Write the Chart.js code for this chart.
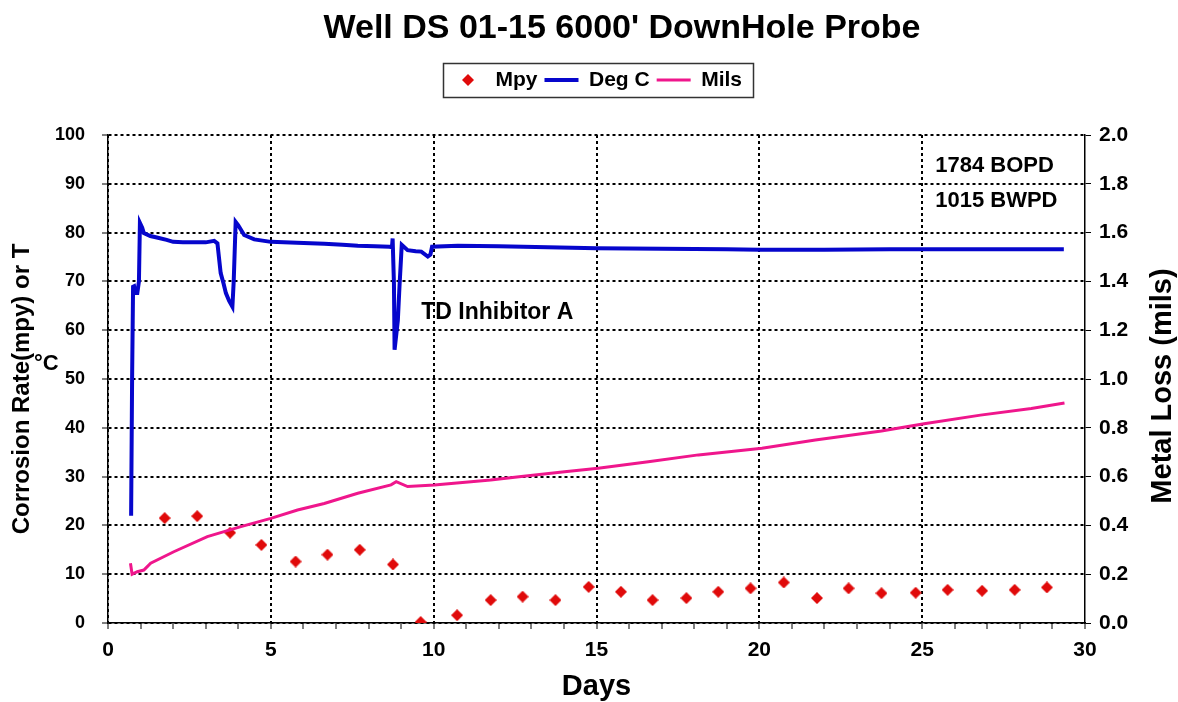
<!DOCTYPE html>
<html>
<head>
<meta charset="utf-8">
<script src="https://cdn.jsdelivr.net/npm/chart.js@4"></script>
<style>
  html, body { margin: 0; padding: 0; background: #ffffff; }
  #c { display: block; }
</style>
</head>
<body>
<canvas id="c" width="1178" height="702"></canvas>
<script>
// ---------- data ----------
const mpyDays = [1.74, 2.74, 3.75, 4.71, 5.76, 6.74, 7.73, 8.75, 9.6, 10.72, 11.75, 12.73, 13.74, 14.76, 15.75, 16.72, 17.76, 18.74, 19.73, 20.75, 21.77, 22.74, 23.75, 24.8, 25.78, 26.84, 27.84, 28.83];
const mpyVals = [21.5, 21.9, 18.5, 16.0, 12.6, 14.0, 15.0, 12.0, 0.2, 1.6, 4.7, 5.4, 4.7, 7.4, 6.4, 4.7, 5.1, 6.4, 7.1, 8.3, 5.1, 7.1, 6.1, 6.2, 6.8, 6.6, 6.8, 7.3];

const degDays = [0.71, 0.74, 0.77, 0.8, 0.83, 0.9, 0.95, 0.98, 1.05, 1.1, 1.3, 1.5, 1.8, 2.0, 2.3, 2.6, 3.0, 3.26, 3.36, 3.46, 3.55, 3.62, 3.72, 3.82, 3.86, 3.92, 4.0, 4.18, 4.49, 5.0, 5.8, 6.64, 7.2, 7.67, 8.2, 8.64, 8.72, 8.74, 8.78, 8.8, 8.9, 8.95, 9.02, 9.2, 9.45, 9.62, 9.82, 9.9, 9.95, 10.74, 12, 13.5, 15, 17, 19, 20, 22, 24, 26, 28, 29.35];
const degVals = [22, 50, 68.9, 69, 67.6, 67.6, 70, 82, 81, 79.9, 79.3, 79, 78.5, 78.1, 78, 78, 78, 78.3, 77.8, 71.7, 69.5, 67.6, 66, 64.8, 70, 82.2, 81.5, 79.5, 78.6, 78.1, 77.9, 77.7, 77.5, 77.3, 77.2, 77.1, 77, 78.8, 69.6, 56, 62, 68.9, 77.5, 76.4, 76.2, 76.1, 75.1, 75.5, 77.1, 77.3, 77.2, 77, 76.8, 76.7, 76.6, 76.5, 76.5, 76.6, 76.6, 76.6, 76.6];

const milsDays = [0.69, 0.74, 0.9, 1.1, 1.31, 2.02, 3.05, 4.08, 5.0, 5.82, 6.64, 7.67, 8.69, 8.85, 9.2, 10.02, 11.75, 12.69, 14.02, 15.05, 16.59, 18.13, 20.08, 21.72, 23.75, 25.06, 26.79, 28.35, 29.37];
const milsVals = [0.245, 0.2, 0.21, 0.217, 0.245, 0.292, 0.354, 0.395, 0.429, 0.463, 0.49, 0.532, 0.566, 0.579, 0.559, 0.566, 0.586, 0.6, 0.62, 0.634, 0.661, 0.689, 0.716, 0.75, 0.787, 0.817, 0.852, 0.879, 0.902];

const seriesNames = ['Mpy', 'Deg C', 'Mils'];
const chartTitle = "Well DS 01-15 6000' DownHole Probe";
const xTitle = 'Days';
const yLeftTitle = 'Corrosion Rate(mpy) or T';
const yLeftUnit = '°C';
const yRightTitle = 'Metal Loss (mils)';
const notes = [
  { text: 'TD Inhibitor A', day: 9.62, val: 62.2, size: 23 },
  { text: '1784 BOPD', day: 25.4, val: 92.4, size: 22 },
  { text: '1015 BWPD', day: 25.4, val: 85.3, size: 22 }
];

// ---------- build ----------
const FF = '"Liberation Sans", Arial, Helvetica, sans-serif';
const toPts = (xs, ys) => xs.map((d, i) => ({ x: d, y: ys[i] }));

// diamond marker used for the Mpy series and its legend entry
const diamond = document.createElement('canvas');
diamond.width = 12; diamond.height = 12;
(function () {
  const g = diamond.getContext('2d');
  g.fillStyle = '#E00A0A';
  g.beginPath();
  g.moveTo(6, 0); g.lineTo(12, 6); g.lineTo(6, 12); g.lineTo(0, 6);
  g.closePath(); g.fill();
})();

const overlay = {
  id: 'overlay',
  afterDraw(chart) {
    const { ctx } = chart;
    const xs = chart.scales.x, ys = chart.scales.y;
    ctx.save();
    // legend frame
    const lg = chart.legend;
    if (lg && lg.legendHitBoxes && lg.legendHitBoxes.length) {
      const hb = lg.legendHitBoxes;
      const first = hb[0], last = hb[hb.length - 1];
      const l = first.left + 17 - 25;
      const r = last.left + last.width + 11;
      const cy = first.top + first.height / 2;
      ctx.strokeStyle = '#333333';
      ctx.lineWidth = 1.5;
      ctx.strokeRect(Math.round(l) + 0.5, Math.round(cy - 17) + 0.5, Math.round(r - l), 34);
    }
    ctx.fillStyle = '#000000';
    // chart title
    ctx.textAlign = 'center';
    ctx.textBaseline = 'alphabetic';
    ctx.font = 'bold 34px ' + FF;
    ctx.fillText(chartTitle, 622, 38);
    // notes
    ctx.textAlign = 'left';
    notes.forEach(n => {
      ctx.font = 'bold ' + n.size + 'px ' + FF;
      ctx.fillText(n.text, xs.getPixelForValue(n.day), ys.getPixelForValue(n.val));
    });
    // unit part of left title
    ctx.font = 'bold 22px ' + FF;
    ctx.fillText(yLeftUnit, 34, 370);
    // right title (reads bottom to top)
    ctx.translate(1163, 386);
    ctx.rotate(-Math.PI / 2);
    ctx.textAlign = 'center';
    ctx.textBaseline = 'middle';
    ctx.font = 'bold 29px ' + FF;
    ctx.fillText(yRightTitle, 0, 0);
    ctx.restore();
  }
};

new Chart(document.getElementById('c'), {
  type: 'scatter',
  data: {
    datasets: [
      {
        type: 'scatter',
        label: seriesNames[0],
        data: toPts(mpyDays, mpyVals),
        yAxisID: 'y',
        pointStyle: diamond,
        pointRadius: 6,
        backgroundColor: '#E00A0A',
        borderColor: '#E00A0A',
        borderWidth: 0,
        order: 2
      },
      {
        type: 'line',
        label: seriesNames[1],
        data: toPts(degDays, degVals),
        yAxisID: 'y',
        borderColor: '#0606CC',
        backgroundColor: '#0606CC',
        borderWidth: 4,
        pointRadius: 0,
        pointHitRadius: 0,
        pointStyle: 'line',
        pointBorderWidth: 4,
        tension: 0,
        fill: false,
        order: 0
      },
      {
        type: 'line',
        label: seriesNames[2],
        data: toPts(milsDays, milsVals),
        yAxisID: 'y2',
        borderColor: '#EF168C',
        backgroundColor: '#EF168C',
        borderWidth: 3,
        pointRadius: 0,
        pointHitRadius: 0,
        pointStyle: 'line',
        pointBorderWidth: 3,
        tension: 0,
        fill: false,
        order: 1
      }
    ]
  },
  options: {
    responsive: false,
    animation: false,
    devicePixelRatio: 1,
    layout: { padding: { top: 62.5, left: 0, right: 0, bottom: 0 } },
    plugins: {
      title: { display: false },
      subtitle: {
        display: true,
        text: ' ',
        weight: 500,
        fullSize: false,
        font: { size: 10, lineHeight: 1 },
        padding: { top: 0, bottom: 24.5 }
      },
      legend: {
        display: true,
        position: 'top',
        fullSize: false,
        labels: {
          usePointStyle: true,
          pointStyleWidth: 34,
          boxWidth: 34,
          boxHeight: 8,
          padding: 7,
          color: '#000000',
          font: { family: FF, size: 21, weight: 'bold' },
          sort: (a, b) => a.datasetIndex - b.datasetIndex
        }
      },
      tooltip: { enabled: false }
    },
    scales: {
      x: {
        type: 'linear',
        min: 0,
        max: 30,
        afterFit(s) { s.height = 79; },
        ticks: {
          stepSize: 1,
          autoSkip: false,
          maxRotation: 0,
          padding: 9,
          color: '#000000',
          font: { family: FF, size: 21, weight: 'bold' },
          callback: v => (v % 5 === 0 ? String(v) : '')
        },
        grid: {
          color: c => (c.tick && c.tick.value % 5 === 0 && c.tick.value !== 30 ? '#000000' : 'rgba(0,0,0,0)'),
          lineWidth: 2,
          tickColor: '#000000',
          tickWidth: 1,
          tickLength: 6
        },
        border: { display: true, color: '#000000', width: 1.5, dash: [3, 3] },
        title: {
          display: true,
          text: xTitle,
          color: '#000000',
          font: { family: FF, size: 29, weight: 'bold', lineHeight: 1 },
          padding: { top: 0, bottom: 0.5 }
        }
      },
      y: {
        type: 'linear',
        position: 'left',
        min: 0,
        max: 100,
        afterFit(s) { s.width = 108; },
        ticks: {
          stepSize: 10,
          padding: 17,
          color: '#000000',
          font: { family: FF, size: 18, weight: 'bold' }
        },
        grid: {
          color: '#000000',
          lineWidth: 2,
          tickColor: '#000000',
          tickWidth: 1,
          tickLength: 6
        },
        border: { display: true, color: '#000000', width: 1.5, dash: [3, 3] },
        title: {
          display: true,
          text: yLeftTitle + '   ',
          color: '#000000',
          font: { family: FF, size: 24, weight: 'bold' },
          padding: { top: 8, bottom: 0 }
        }
      },
      y2: {
        type: 'linear',
        position: 'right',
        min: 0,
        max: 2,
        afterFit(s) { s.width = 93; },
        ticks: {
          stepSize: 0.2,
          padding: 8,
          color: '#000000',
          font: { family: FF, size: 21, weight: 'bold' },
          callback: v => Number(v).toFixed(1)
        },
        grid: {
          drawOnChartArea: false,
          color: '#000000',
          tickColor: '#000000',
          tickWidth: 1,
          tickLength: 6
        },
        border: { display: true, color: '#000000', width: 1.5 },
        title: { display: false }
      }
    }
  },
  plugins: [overlay]
});
</script>
</body>
</html>
